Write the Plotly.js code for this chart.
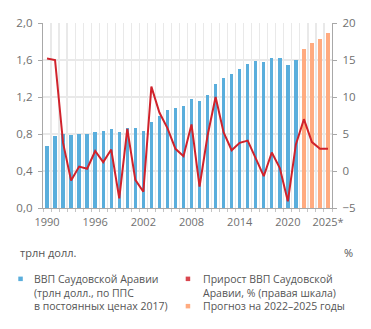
<!DOCTYPE html>
<html>
<head>
<meta charset="utf-8">
<script src="https://cdn.plot.ly/plotly-3.0.1.min.js"></script>
<style>
  html, body { margin: 0; padding: 0; background: #ffffff; }
  #chart { width: 371px; height: 329px; }
</style>
</head>
<body>
<div id="chart"></div>
<script>
// ---- data ----
const histYears = [1990,1991,1992,1993,1994,1995,1996,1997,1998,1999,2000,2001,2002,2003,2004,2005,2006,2007,2008,2009,2010,2011,2012,2013,2014,2015,2016,2017,2018,2019,2020,2021];
const gdpHist = [0.67,0.78,0.80,0.79,0.80,0.80,0.82,0.83,0.85,0.82,0.87,0.86,0.83,0.93,1.00,1.06,1.08,1.10,1.18,1.16,1.22,1.34,1.41,1.45,1.50,1.56,1.59,1.58,1.62,1.62,1.55,1.60];
const forecastYears = [2022,2023,2024,2025];
const gdpForecast = [1.72,1.78,1.83,1.89];
const growthYears = histYears.concat(forecastYears);
const growth = [15.2,15.0,3.8,-1.3,0.6,0.3,2.7,1.2,2.9,-3.7,5.7,-1.2,-2.8,11.4,7.9,5.8,3.0,2.0,6.3,-2.1,4.8,10.0,5.2,2.8,3.8,4.1,1.7,-0.7,2.5,0.4,-4.1,3.6,7.0,3.9,3.0,3.0];
const xTickVals = [1990,1996,2002,2008,2014,2020,2025];
const xTickText = ['1990','1996','2002','2008','2014','2020','2025*'];
const legendGdp = ['ВВП Саудовской Аравии','(трлн долл., по ППС','в постоянных ценах 2017)'];
const legendRight = ['Прирост ВВП Саудовской','Аравии, % (правая шкала)','Прогноз на 2022–2025 годы'];
const leftUnit = 'трлн долл.';
const rightUnit = '%';

// ---- layout geometry ----
const W = 371, H = 329;
const M = {l: 43, r: 39, t: 23, b: 121};
const PW = W - M.l - M.r, PH = H - M.t - M.b;
const px = v => (v - M.l) / PW;
const py = v => (H - M.b - v) / PH;

const FONT = '"Open Sans", "DejaVu Sans", sans-serif';
const BLUE = '#5aaedc';
const ORANGE = '#ffab80';
const RED = '#d0222b';
const TICKC = '#707070';
const TEXTC = '#555555';

const traces = [
  {type: 'bar', x: histYears, y: gdpHist, width: 0.42, marker: {color: BLUE}, xaxis: 'x', yaxis: 'y', hoverinfo: 'skip', showlegend: false},
  {type: 'bar', x: forecastYears, y: gdpForecast, width: 0.42, marker: {color: ORANGE}, xaxis: 'x', yaxis: 'y', hoverinfo: 'skip', showlegend: false},
  {type: 'scatter', mode: 'lines', x: growthYears, y: growth, line: {color: RED, width: 2}, xaxis: 'x', yaxis: 'y2', hoverinfo: 'skip', showlegend: false},
  // invisible trace so the label axis xaxis2 is drawn
  {type: 'scatter', x: [2000], y: [null], xaxis: 'x2', yaxis: 'y', hoverinfo: 'skip', showlegend: false}
];

const ann = [];
function text(t, x, y, anchor, size) {
  ann.push({text: t, xref: 'paper', yref: 'paper', x: px(x), y: py(y), xanchor: anchor || 'left', yanchor: 'middle', align: 'left', showarrow: false, font: {family: FONT, size: size || 11, color: TEXTC}});
}
text(leftUnit, 17.5, 252);
text(rightUnit, 348.5, 252, 'center');
text(legendGdp.join('<br>'), 31.5, 292.5, 'left', 10.5);
text(legendRight.join('<br>'), 200.5, 292.5, 'left', 10.5);

function sq(x0, y0, color) {
  return {type: 'rect', xref: 'paper', yref: 'paper', x0: px(x0), x1: px(x0 + 4.5), y0: py(y0 + 4.5), y1: py(y0), fillcolor: color, line: {width: 0}, layer: 'above'};
}

const layout = {
  width: W, height: H,
  margin: M,
  paper_bgcolor: '#ffffff', plot_bgcolor: '#ffffff',
  separators: ', ',
  font: {family: FONT, size: 11, color: TICKC},
  bargap: 0,
  showlegend: false,
  xaxis: {
    range: [1989.5, 2025.5], tick0: 1989.5, dtick: 1, showticklabels: false,
    showgrid: true, gridcolor: '#e9e9e9', gridwidth: 1.2,
    ticks: 'outside', ticklen: 3, tickcolor: '#c4c4c4',
    showline: true, linecolor: '#a8a8a8', linewidth: 1, zeroline: false, fixedrange: true
  },
  xaxis2: {
    overlaying: 'x', anchor: 'y', side: 'bottom', matches: 'x',
    range: [1989.5, 2025.5], tickmode: 'array', tickvals: xTickVals, ticktext: xTickText,
    showgrid: false, ticks: '', showline: false, zeroline: false,
    ticklabelstandoff: 6, tickfont: {family: FONT, size: 11, color: TICKC}
  },
  yaxis: {
    range: [0, 2], dtick: 0.4, tick0: 0, tickformat: '.1f',
    showgrid: true, gridcolor: '#e9e9e9', gridwidth: 1.2,
    showline: true, linecolor: '#a8a8a8', linewidth: 1.2,
    ticks: 'outside', ticklen: 4, tickcolor: '#a8a8a8',
    zeroline: false, ticklabelstandoff: 3,
    tickfont: {family: FONT, size: 11.5, color: TICKC}, fixedrange: true
  },
  yaxis2: {
    overlaying: 'y', side: 'right', anchor: 'x',
    range: [-5, 20], dtick: 5, tick0: 0,
    showgrid: false, showline: true, linecolor: '#a8a8a8', linewidth: 1.2,
    ticks: 'outside', ticklen: 4, tickcolor: '#a8a8a8',
    zeroline: false, ticklabelstandoff: 3,
    tickfont: {family: FONT, size: 11.5, color: TICKC}, fixedrange: true
  },
  annotations: ann,
  shapes: [sq(18.3, 276.6, BLUE), sq(185.7, 276.6, '#d9474f'), sq(185.7, 303.9, ORANGE)]
};

Plotly.newPlot('chart', traces, layout, {staticPlot: true, displayModeBar: false});
</script>
</body>
</html>
